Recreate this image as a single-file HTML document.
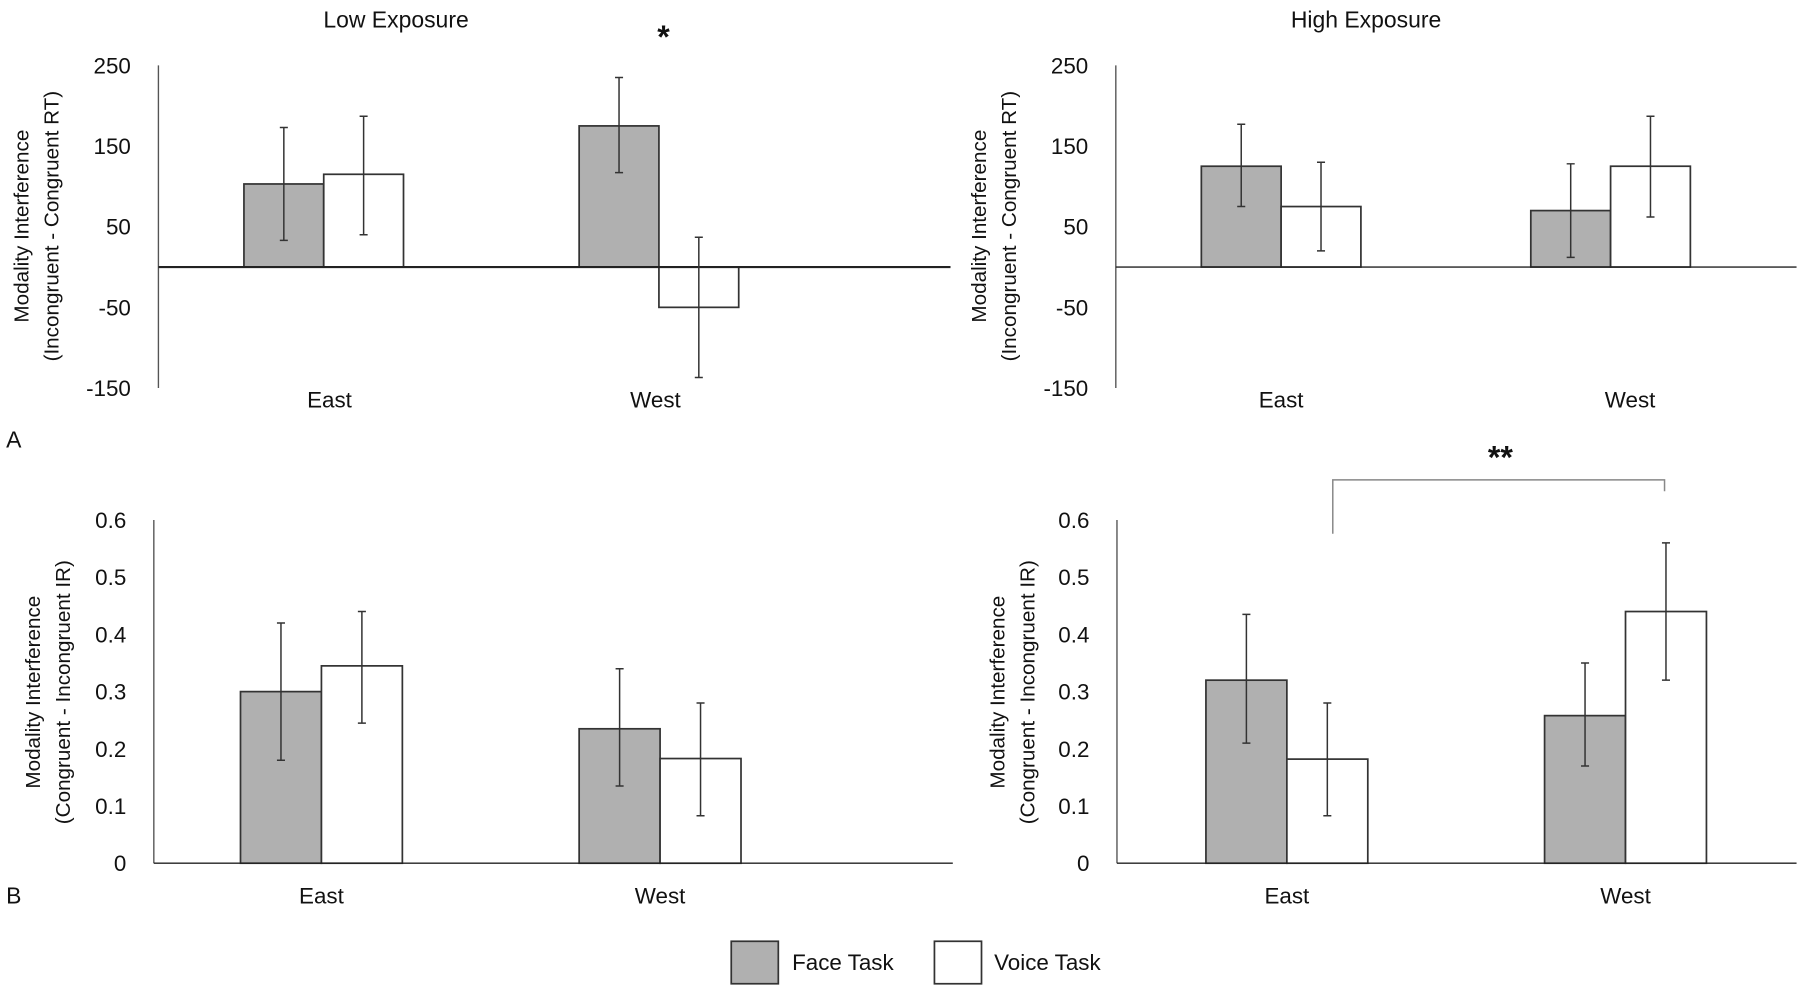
<!DOCTYPE html>
<html><head><meta charset="utf-8"><style>
html,body{margin:0;padding:0;background:#fff}
svg{display:block}
text{font-family:"Liberation Sans",sans-serif;fill:#111}
</style></head><body>
<svg id="fig" width="1800" height="988" viewBox="0 0 1568 860.7" preserveAspectRatio="none" xmlns="http://www.w3.org/2000/svg"></svg>
<script>
const categories = ["East","West"];
const seriesNames = ["Face Task","Voice Task"];
// Panel A: RT interference
const lowRT = [103, 175];
const lowRTVoice = [115, -50];
const lowRTErrLo = [[33,117],[40,-137]];
const lowRTErrHi = [[173,235],[187,37]];
const highRT = [125, 70];
const highRTVoice = [75, 125];
const highRTErrLo = [[75,12],[20,62]];
const highRTErrHi = [[177,128],[130,187]];
const rtTicks = [250,150,50,-50,-150];
// Panel B: IR interference
const lowIR = [0.30, 0.235];
const lowIRVoice = [0.345, 0.183];
const lowIRErrLo = [[0.18,0.135],[0.245,0.083]];
const lowIRErrHi = [[0.42,0.34],[0.44,0.28]];
const highIR = [0.32, 0.258];
const highIRVoice = [0.182, 0.44];
const highIRErrLo = [[0.21,0.17],[0.083,0.32]];
const highIRErrHi = [[0.435,0.35],[0.28,0.56]];
const irTicks = [0.6,0.5,0.4,0.3,0.2,0.1,0];

const NS="http://www.w3.org/2000/svg";
const svg=document.getElementById('fig');
function mk(tag,attrs,parent){const e=document.createElementNS(NS,tag);for(const k in attrs)e.setAttribute(k,attrs[k]);(parent||svg).appendChild(e);return e;}
function txt(s,x,y,size,anchor,parent,extra){const t=mk('text',Object.assign({x:x,y:y,'font-size':size,'text-anchor':anchor||'middle'},extra||{}),parent);t.textContent=s;return t;}

function panel(cfg){
  const g=mk('g',{});
  
  
  const y=v=>cfg.yTop+(cfg.max-v)/(cfg.max-cfg.min)*(cfg.yBot-cfg.yTop);
  const ax=mk('line',{x1:cfg.ax,y1:cfg.yTop,x2:cfg.ax,y2:cfg.yBot,stroke:'#555','stroke-width':1.2},g);
  
  
  cfg.ticks.forEach(t=>{
    const l=txt(String(t),cfg.ax-24,y(t)+7,19.5,'end',g);
    
    
  });
  const series=[cfg.face,cfg.voice];
  const fills=['#b0b0b0','#ffffff'];
  categories.forEach((c,ci)=>{
    const gx=cfg.groupX[ci];
    series.forEach((s,si)=>{
      const x0=gx+(si-1)*cfg.bw;
      const v=s[ci];
      const top=Math.min(y(v),y(0)),h=Math.abs(y(v)-y(0));
      const r=mk('rect',{x:x0,y:top,width:cfg.bw,height:h,fill:fills[si],stroke:'#333','stroke-width':1.5},g);
      
      
    });
  });
  const xa=mk('line',{x1:cfg.ax,y1:y(0),x2:cfg.xEnd,y2:y(0),stroke:'#222','stroke-width':cfg.zeroW},g);
  
  
  categories.forEach((c,ci)=>{
    const gx=cfg.groupX[ci];
    series.forEach((s,si)=>{
      const cx=gx+(si-0.5)*cfg.bw;
      const lo=y(cfg.lo[si][ci]),hi=y(cfg.hi[si][ci]);
      const e=mk('path',{d:`M${cx},${lo}V${hi}M${cx-3.5},${lo}h7M${cx-3.5},${hi}h7`,stroke:'#333','stroke-width':1.3,fill:'none'},g);
      
      
    });
    const l=txt(c,cfg.labelX[ci],cfg.labelY,19.5,'middle',g);
    
    
  });
  const t1=txt(cfg.yt1,0,0,18,'middle',g,{transform:`translate(${cfg.ytx},${cfg.yty}) rotate(-90)`});
  
  
  const t2=txt(cfg.yt2,0,0,18,'middle',g,{transform:`translate(${cfg.ytx+26},${cfg.yty}) rotate(-90)`});
  
  
}

panel({name:'panel-a-low',ax:138,yTop:57,yBot:338,max:250,min:-150,ticks:rtTicks,face:lowRT,voice:lowRTVoice,lo:lowRTErrLo,hi:lowRTErrHi,groupX:[282,574],bw:69.5,xEnd:828,zeroW:1.8,labelX:[287,571],labelY:355,ytx:25,yty:197,yt1:'Modality Interference',yt2:'(Incongruent - Congruent RT)'});
panel({name:'panel-a-high',ax:972,yTop:57,yBot:338,max:250,min:-150,ticks:rtTicks,face:highRT,voice:highRTVoice,lo:highRTErrLo,hi:highRTErrHi,groupX:[1116,1403],bw:69.5,xEnd:1565,zeroW:1.2,labelX:[1116,1420],labelY:355,ytx:859,yty:197,yt1:'Modality Interference',yt2:'(Incongruent - Congruent RT)'});
panel({name:'panel-b-low',ax:134,yTop:453,yBot:752,max:0.6,min:0,ticks:irTicks,face:lowIR,voice:lowIRVoice,lo:lowIRErrLo,hi:lowIRErrHi,groupX:[280,575],bw:70.5,xEnd:830,zeroW:1.2,labelX:[280,575],labelY:787,ytx:35,yty:603,yt1:'Modality Interference',yt2:'(Congruent - Incongruent IR)'});
panel({name:'panel-b-high',ax:973,yTop:453,yBot:752,max:0.6,min:0,ticks:irTicks,face:highIR,voice:highIRVoice,lo:highIRErrLo,hi:highIRErrHi,groupX:[1121,1416],bw:70.5,xEnd:1565,zeroW:1.2,labelX:[1121,1416],labelY:787,ytx:875,yty:603,yt1:'Modality Interference',yt2:'(Congruent - Incongruent IR)'});

let e;
e=txt('Low Exposure',345,24,20,'middle');
e=txt('High Exposure',1190,24,20,'middle');
e=txt('*',578,42,28,'middle',null,{'font-weight':'bold'});
e=txt('**',1307,408,28,'middle',null,{'font-weight':'bold'});
e=mk('path',{d:'M1161,465V418H1450V428',stroke:'#888','stroke-width':1.3,fill:'none'});
e=txt('A',12,390,20,'middle');
e=txt('B',12,787,20,'middle');
e=mk('rect',{x:637,y:820,width:41,height:37,fill:'#b0b0b0',stroke:'#333','stroke-width':1.5});
e=txt(seriesNames[0],690,845,19.5,'start');
e=mk('rect',{x:814,y:820,width:41,height:37,fill:'#fff',stroke:'#333','stroke-width':1.5});
e=txt(seriesNames[1],866,845,19.5,'start');
</script>
</body></html>
